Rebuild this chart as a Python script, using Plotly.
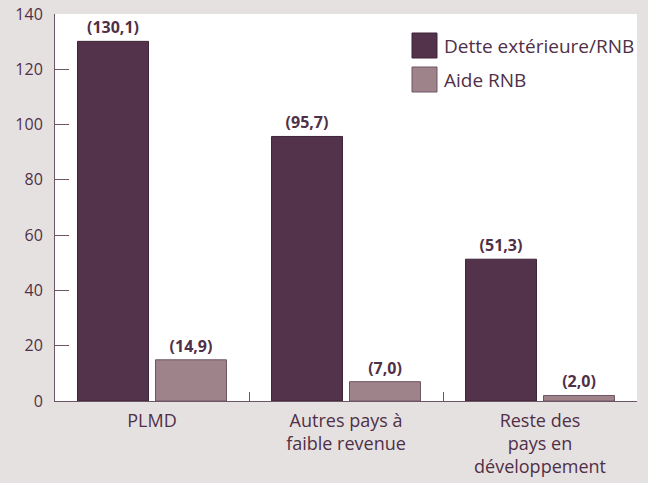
import plotly.graph_objects as go

categories = ["PLMD", "Autres pays à<br>faible revenue", "Reste des<br>pays en<br>développement"]
dette = [130.1, 95.7, 51.3]
aide = [14.9, 7.0, 2.0]
dette_labels = ["(130,1)", "(95,7)", "(51,3)"]
aide_labels = ["(14,9)", "(7,0)", "(2,0)"]
y_ticks = [0, 20, 40, 60, 80, 100, 120, 140]
series_names = ["Dette extérieure/RNB", "Aide RNB"]
series_colors = ["#52334b", "#9e838a"]
series_lines = ["#3e2438", "#6e5565"]

txt = "#4f3047"
FONT = "Open Sans"
fig = go.Figure()
for vals, labs, name, col, lc in [(dette, dette_labels, series_names[0], series_colors[0], series_lines[0]),
                                  (aide, aide_labels, series_names[1], series_colors[1], series_lines[1])]:
    fig.add_trace(go.Bar(x=categories, y=vals, name=name,
                         marker=dict(color=col, line=dict(color=lc, width=1)),
                         text=labs, textposition="outside", cliponaxis=False,
                         textfont=dict(family=FONT, size=16, color=txt, weight="bold"),
                         showlegend=False))

# custom legend (large squares)
shapes = []
annotations = []
legend_rows = [(33, 58), (67, 92)]
for (y0, y1), name, col, lc in zip(legend_rows, series_names, series_colors, series_lines):
    shapes.append(dict(type="rect", xref="paper", yref="paper",
                       x0=(412 - 55) / 582, x1=(437 - 55) / 582,
                       y0=(401 - y1) / 387, y1=(401 - y0) / 387,
                       fillcolor=col, line=dict(color=lc, width=1)))
    annotations.append(dict(xref="paper", yref="paper", x=(442 - 55) / 582,
                            y=(401 - (y0 + y1) / 2) / 387, xanchor="left", yanchor="middle",
                            text=name, showarrow=False,
                            font=dict(family=FONT, size=19, color=txt)))

fig.update_layout(
    width=648, height=483,
    margin=dict(l=55, r=11, t=14, b=82),
    paper_bgcolor="#e6e1e1", plot_bgcolor="#ffffff",
    barmode="group", bargap=0.196, bargroupgap=0.09,
    font=dict(family=FONT, size=16, color=txt),
    shapes=shapes, annotations=annotations,
    xaxis=dict(showline=True, linecolor="#6e5565", linewidth=1,
               ticks="inside", tickson="boundaries", ticklen=9, tickcolor="#6e5565",
               tickfont=dict(family=FONT, size=18, color=txt), showgrid=False,
               ticklabelstandoff=3, automargin=False),
    yaxis=dict(range=[0, 140], tickvals=y_ticks, showline=True, linecolor="#6e5565",
               linewidth=1, ticks="inside", ticklen=14, tickcolor="#6e5565",
               tickfont=dict(family=FONT, size=16, color=txt), showgrid=False, zeroline=False,
               ticklabelstandoff=8, automargin=False),
)
fig.write_html("out.html", config={"displayModeBar": False},
               post_script="document.body.style.margin='0';document.body.style.overflow='hidden';")
